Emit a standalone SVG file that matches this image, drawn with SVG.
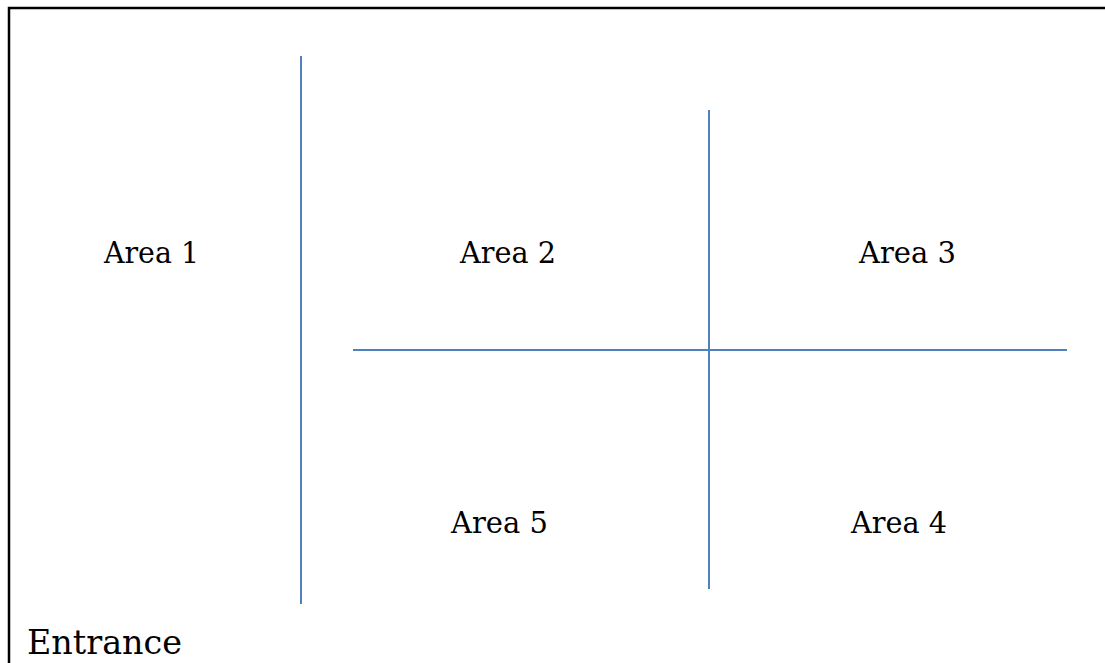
<svg xmlns="http://www.w3.org/2000/svg" width="1105" height="663" viewBox="0 0 1105 663">
<style>
.lbl{font-family:"DejaVu Serif","Liberation Serif",serif;font-size:30px;fill:#000}
.ent{font-family:"DejaVu Serif","Liberation Serif",serif;font-size:34px;fill:#000}
.div{stroke:#4F81BD;stroke-width:2;fill:none}
</style>
<rect x="0" y="0" width="1105" height="663" fill="#fff"/>
<rect id="border" x="9" y="8" width="1200" height="700" fill="none" stroke="#000" stroke-width="2.5"/>
<g id="connectors">
<line class="div" x1="301" y1="56" x2="301" y2="604"/>
<line class="div" x1="709" y1="110" x2="709" y2="589"/>
<line class="div" x1="353" y1="350" x2="1067" y2="350"/>
</g>
<g id="area1"><text class="lbl" x="104" y="263" textLength="95" lengthAdjust="spacingAndGlyphs">Area 1</text></g>
<g id="area2"><text class="lbl" x="460" y="263" textLength="96" lengthAdjust="spacingAndGlyphs">Area 2</text></g>
<g id="area3"><text class="lbl" x="859" y="263" textLength="97" lengthAdjust="spacingAndGlyphs">Area 3</text></g>
<g id="area5"><text class="lbl" x="451" y="533" textLength="97" lengthAdjust="spacingAndGlyphs">Area 5</text></g>
<g id="area4"><text class="lbl" x="851" y="533" textLength="96" lengthAdjust="spacingAndGlyphs">Area 4</text></g>
<g id="entrance"><text class="ent" x="27" y="654" textLength="155" lengthAdjust="spacingAndGlyphs">Entrance</text></g>
</svg>
